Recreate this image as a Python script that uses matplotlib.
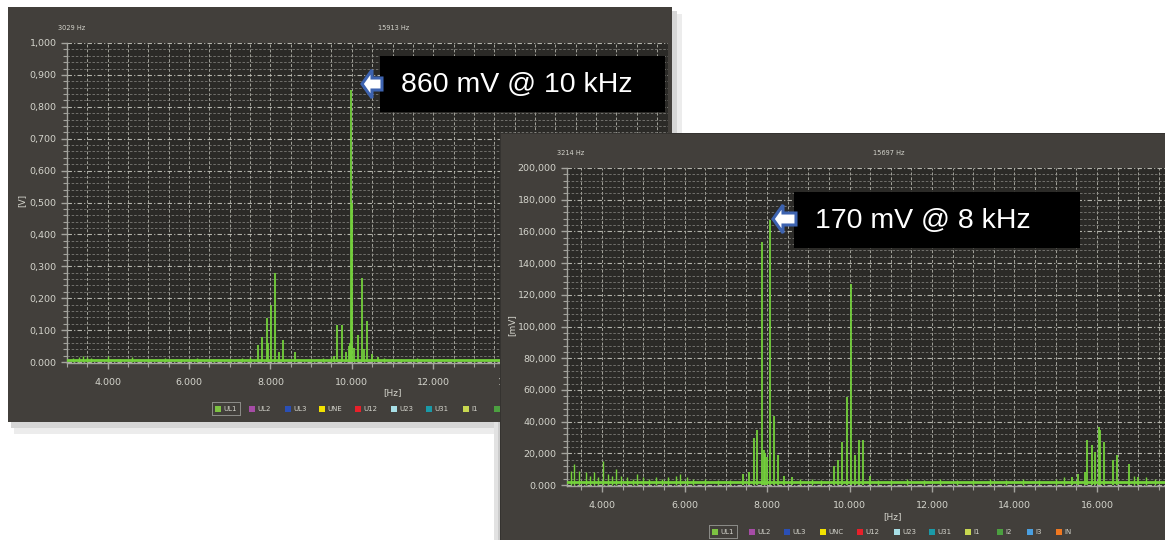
import matplotlib
matplotlib.use("Agg")
import matplotlib.pyplot as plt
from matplotlib.patches import Rectangle, Polygon
from matplotlib.ticker import MultipleLocator, FixedLocator

W, H = 1165, 540

# ---------------- data ----------------
# Panel 1: amplitude in V
p1_peak_freqs = [7700, 7800, 7906, 7950, 8004, 8110, 8200, 8314, 8600, 9550, 9643, 9750,
                 9850, 9930, 9960, 9990, 10010, 10060, 10158, 10245, 10300, 10364, 10500,
                 10650, 11000]
p1_peak_vals = [0.053, 0.08, 0.138, 0.06, 0.179, 0.279, 0.03, 0.069, 0.031, 0.02, 0.116, 0.116,
                0.03, 0.05, 0.06, 0.853, 0.5, 0.045, 0.085, 0.263, 0.04, 0.13, 0.025,
                0.015, 0.01]
p1_noise_freqs = [3150, 3300, 3400, 3500, 3600, 4000, 4300, 4600, 5000, 5400, 5800, 6200, 6600,
                  7000, 7300, 7500, 9000, 9300, 9500, 10800, 11200, 11600, 12000, 12500, 13000]
p1_noise_vals = [0.012, 0.015, 0.018, 0.016, 0.012, 0.02, 0.01, 0.015, 0.01, 0.012, 0.01, 0.012,
                 0.009, 0.01, 0.012, 0.015, 0.01, 0.012, 0.015, 0.012, 0.01, 0.012, 0.01, 0.009, 0.01]
p1_floor = 0.006
p1_yticks = [0.0, 0.1, 0.2, 0.3, 0.4, 0.5, 0.6, 0.7, 0.8, 0.9, 1.0]
p1_ylabels = ["0.000", "0,100", "0,200", "0,300", "0,400", "0,500", "0,600", "0,700", "0,800",
              "0,900", "1,000"]

# Panel 2: amplitude in mV
p2_peak_freqs = [7410, 7570, 7685, 7765, 7886, 7920, 7960, 8000, 8073, 8170, 8275, 8400, 8600,
                 9620, 9725, 9825, 9930, 10030, 10133, 10238, 10335, 10500,
                 15400, 15550, 15700, 15765, 15870, 15950, 16055, 16080, 16170, 16380, 16480,
                 16775, 17000]
p2_peak_vals = [7, 8, 29.5, 34.7, 153.5, 22, 20, 18, 167.2, 43.5, 19, 6, 5,
                12, 15.8, 27.3, 55.7, 127, 19, 28.4, 28.4, 6,
                5, 7, 8, 28.4, 25, 21, 36.8, 35, 27.3, 15.8, 19, 13, 5]
p2_noise_freqs = [3250, 3321, 3450, 3600, 3700, 3800, 3900, 4016, 4150, 4250, 4340, 4450, 4600,
                  4750, 4850, 5000, 5150, 5300, 5450, 5600, 5800, 5900, 6050, 6200, 6500, 6800,
                  7100, 8800, 9100, 9300, 10700, 11000, 11400, 11800, 12200, 12600, 13000,
                  13400, 13800, 14200, 14600, 15000, 15200, 16900, 17200, 17400]
p2_noise_vals = [9, 13, 9, 8, 6, 8, 5, 15, 7, 6, 10, 6, 5, 4, 7, 5, 4, 5, 4, 5, 6, 7, 5, 4, 4, 3,
                 3, 4, 4, 3, 3, 3, 4, 3, 4, 3, 3, 4, 3, 4, 3, 4, 5, 6, 5, 4]
p2_floor = 2.0
p2_yticks = [0, 20, 40, 60, 80, 100, 120, 140, 160, 180, 200]
p2_ylabels = ["0.000", "20,000", "40,000", "60,000", "80,000", "100,000", "120,000", "140,000",
              "160,000", "180,000", "200,000"]

x_ticks = [4000, 6000, 8000, 10000, 12000, 14000, 16000]
x_labels = ["4.000", "6.000", "8.000", "10.000", "12.000", "14.000", "16.000"]

legend1_names = ["UL1", "UL2", "UL3", "UNE", "U12", "U23", "U31", "I1", ""]
legend2_names = ["UL1", "UL2", "UL3", "UNC", "U12", "U23", "U31", "I1", "I2", "I3", "IN"]
legend_colors = ["#7dc242", "#a64ca6", "#2a4fb5", "#f2e200", "#e8202a", "#a8dfe6", "#1a9aa8",
                 "#c8d850", "#4ca040", "#4a9fe0", "#f07820"]

# ---------------- styling ----------------
PANEL = "#423f3b"
PLOT = "#2b2a27"
TXT = "#d4d4cc"
GREEN = "#74d13c"

fig = plt.figure(figsize=(W / 100, H / 100), dpi=100)
fig.patch.set_facecolor("white")


def rect_px(x0, y0, x1, y1, color, z):
    r = Rectangle((x0 / W, 1 - y1 / H), (x1 - x0) / W, (y1 - y0) / H,
                  transform=fig.transFigure, facecolor=color, edgecolor="none", zorder=z)
    fig.patches.append(r)


def text_px(x, y, s, z, **kw):
    fig.text(x / W, 1 - y / H, s, zorder=z, **kw)


def axes_px(x0, y0, x1, y1, z):
    ax = fig.add_axes([x0 / W, 1 - y1 / H, (x1 - x0) / W, (y1 - y0) / H])
    ax.set_zorder(z)
    return ax


def style_axes(ax, xlim, ylim, yticks, ylabels, yminor):
    ax.set_facecolor(PLOT)
    ax.set_xlim(*xlim)
    ax.set_ylim(*ylim)
    ax.xaxis.set_major_locator(FixedLocator(x_ticks))
    ax.set_xticklabels(x_labels)
    ax.xaxis.set_minor_locator(MultipleLocator(500))
    ax.yaxis.set_major_locator(FixedLocator(yticks))
    ax.set_yticklabels(ylabels)
    ax.yaxis.set_minor_locator(MultipleLocator(yminor))
    for s in ["top", "right"]:
        ax.spines[s].set_visible(False)
    for s in ["left", "bottom"]:
        ax.spines[s].set_color("#a4a49e")
        ax.spines[s].set_linewidth(1.0)
    ax.tick_params(axis="both", which="both", colors="#a4a49e", labelcolor=TXT,
                   labelsize=6.8, direction="out")
    ax.tick_params(axis="both", which="major", length=4, width=1)
    ax.tick_params(axis="both", which="minor", length=3, width=0.8)
    ax.tick_params(axis="x", pad=7)
    ax.grid(True, which="major", axis="y", color="#c4c4bc", linestyle=(0, (4, 2, 1, 2)),
            linewidth=0.8, alpha=0.9)
    ax.grid(True, which="minor", axis="y", color="#8a8984", linestyle=(0, (3, 2)),
            linewidth=0.6, alpha=0.85)
    ax.grid(True, which="both", axis="x", color="#b8b8b0", linestyle=(0, (3, 2)),
            linewidth=0.7, alpha=0.85)
    ax.set_axisbelow(True)


def legend_px(x_squares, y, names, colors, z):
    for i, (xs, nm) in enumerate(zip(x_squares, names)):
        rect_px(xs - 3, y - 3, xs + 3, y + 3, colors[i], z)
        if nm:
            text_px(xs + 5, y, nm, z, fontsize=5, color=TXT, va="center", ha="left")


def arrow_px(tx, ty, tail, z):
    hl, hh, sh = 10, 14, 6
    pts = [(tx, ty), (tx + hl, ty - hh), (tx + hl, ty - sh), (tail, ty - sh),
           (tail, ty + sh), (tx + hl, ty + sh), (tx + hl, ty + hh)]
    poly = Polygon([(x / W, 1 - y / H) for x, y in pts], closed=True,
                   transform=fig.transFigure, facecolor="white", edgecolor="#3d63b0",
                   linewidth=2.2, zorder=z)
    fig.patches.append(poly)


# ---------------- panel 1 ----------------
rect_px(14, 14, 682, 434, "#ececec", -20)
rect_px(11, 11, 677, 428, "#d6d6d6", -19)
rect_px(8, 7, 672, 422, PANEL, -18)

ax1 = axes_px(67, 43, 668, 363, 0)
style_axes(ax1, (3000, 17770), (-0.003, 1.0), p1_yticks, p1_ylabels, 0.02)
ax1.axhline(p1_floor, color=GREEN, linewidth=2.0, zorder=3)
ax1.vlines(p1_noise_freqs, 0, p1_noise_vals, color=GREEN, linewidth=1.0, zorder=3)
ax1.vlines(p1_peak_freqs, 0, p1_peak_vals, color=GREEN, linewidth=1.3, zorder=3)

text_px(58, 28, "3029 Hz", 1, fontsize=4.8, color=TXT, va="center")
text_px(378, 28, "15913 Hz", 1, fontsize=4.8, color=TXT, va="center")
text_px(22, 200, "[V]", 1, fontsize=6.5, color=TXT, va="center", ha="center", rotation=90)
text_px(392, 393, "[Hz]", 1, fontsize=6.5, color=TXT, va="center", ha="center")
rect_px(212, 402, 241, 416, "#8a8a86", 1)
rect_px(213, 403, 240, 415, PANEL, 1)
legend_px([218, 252, 288, 322, 358, 394, 429, 466, 497], 409, legend1_names,
          legend_colors[:8] + ["#4ca040"], 1)

# ---------------- panel 2 ----------------
rect_px(494, 422, 503, H, "#e2e2e2", 4)
rect_px(498, 422, 503, H, "#cccccc", 4)
rect_px(500, 133, W, H, "#353330", 5)
rect_px(501, 134, W, H, PANEL, 5)

ax2 = axes_px(567, 168, W, 486, 6)
style_axes(ax2, (3150, 17650), (-0.6, 200), p2_yticks, p2_ylabels, 4)
ax2.axhline(p2_floor, color=GREEN, linewidth=2.0, zorder=3)
ax2.vlines(p2_noise_freqs, 0, p2_noise_vals, color=GREEN, linewidth=1.0, zorder=3)
ax2.vlines(p2_peak_freqs, 0, p2_peak_vals, color=GREEN, linewidth=1.3, zorder=3)

text_px(557, 153, "3214 Hz", 7, fontsize=4.8, color=TXT, va="center")
text_px(873, 153, "15697 Hz", 7, fontsize=4.8, color=TXT, va="center")
text_px(512, 325, "[mV]", 7, fontsize=6.5, color=TXT, va="center", ha="center", rotation=90)
text_px(892, 517, "[Hz]", 7, fontsize=6.5, color=TXT, va="center", ha="center")
rect_px(709, 525, 738, 539, "#8a8a86", 7)
rect_px(710, 526, 737, 538, PANEL, 7)
legend_px([715, 752, 787, 823, 860, 897, 932, 968, 1000, 1030, 1059], 532, legend2_names,
          legend_colors, 8)

# ---------------- annotations ----------------
rect_px(380, 56, 665, 112, "black", 10)
text_px(401, 85, "860 mV @ 10 kHz", 11, fontsize=20.5, color="white", va="center",
        ha="left", family="Liberation Sans")
arrow_px(362, 84, 382, 11)

rect_px(794, 192, 1080, 248, "black", 10)
text_px(815, 221, "170 mV @ 8 kHz", 11, fontsize=20.5, color="white", va="center",
        ha="left", family="Liberation Sans")
arrow_px(773, 219, 796, 11)

fig.savefig("out.png", dpi=100, facecolor="white")
